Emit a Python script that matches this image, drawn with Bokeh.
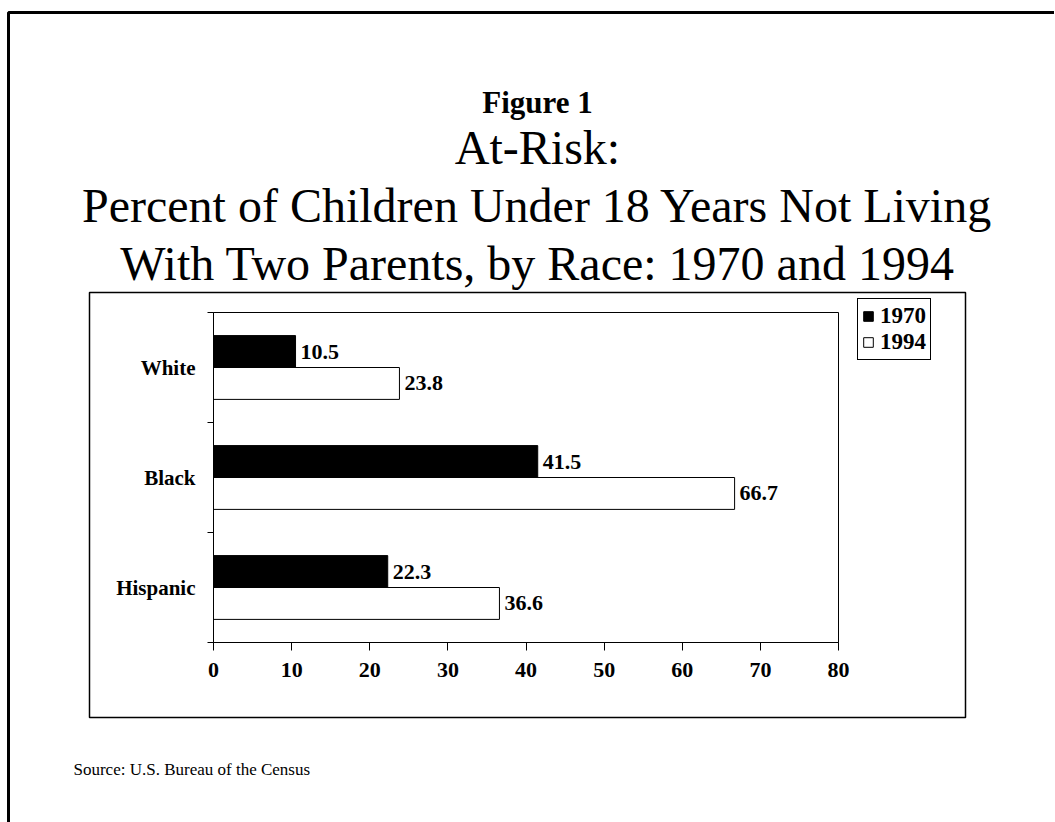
from bokeh.plotting import figure
from bokeh.models import (Range1d, FixedTicker, ColumnDataSource, Legend, LegendItem,
                          Label, BoxAnnotation)
from bokeh.transform import dodge
from bokeh.core.properties import value
from bokeh.embed import file_html
from bokeh.resources import INLINE

# ---- data ----
races = ["White", "Black", "Hispanic"]
pct_1970 = [10.5, 41.5, 22.3]
pct_1994 = [23.8, 66.7, 36.6]
series_names = ["1970", "1994"]
x_ticks = [0, 10, 20, 30, 40, 50, 60, 70, 80]
fig_label = "Figure 1"
title_lines = ["At-Risk:",
               "Percent of Children Under 18 Years Not Living",
               "With Two Parents, by Race: 1970 and 1994"]
source_text = "Source: U.S. Bureau of the Census"

FONT = "Liberation Serif"

# ---- page geometry (pixels from the page's top-left) ----
W, H = 1054, 822
PL, PR, PT, PB = 213, 838, 312, 642      # bar area
X_MIN, X_MAX = 0, 80
n = len(races)

# the frame covers the whole canvas; data ranges chosen so the bar area lands at PL..PR / PT..PB
xs = (PR - PL) / (X_MAX - X_MIN)
ys = (PB - PT) / n
x_range = Range1d(X_MIN - PL / xs, X_MAX + (W - PR) / xs)
y_range = Range1d(-(H - PB) / ys, n + PT / ys)

p = figure(width=W, height=H, x_range=x_range, y_range=y_range,
           output_backend="svg", toolbar_location=None, min_border=0,
           outline_line_color=None)
p.xgrid.visible = False
p.ygrid.visible = False
p.background_fill_color = "white"
p.border_fill_color = "white"


def sx(X):
    return X


def sy(Y):
    return H - Y


# ---- bars ----
centers = [n - i - 0.5 for i in range(n)]
bounds = [float(i) for i in range(n + 1)]
src = ColumnDataSource(dict(
    y=centers, v70=pct_1970, v94=pct_1994,
    t70=[f"{v:.1f}" for v in pct_1970],
    t94=[f"{v:.1f}" for v in pct_1994],
))

# bar-area outline
p.add_layout(BoxAnnotation(left=X_MIN, right=X_MAX, bottom=0, top=n,
                           fill_color=None, line_color="black", line_alpha=1,
                           line_width=1))

bh = 0.29
r70 = p.hbar(y=dodge("y", bh / 2, range=p.y_range), left=0, right="v70", height=bh,
             source=src, fill_color="black", line_color="black", line_width=1)
r94 = p.hbar(y=dodge("y", -bh / 2, range=p.y_range), left=0, right="v94", height=bh,
             source=src, fill_color="white", line_color="black", line_width=1)

for col, tcol, off in (("v70", "t70", bh / 2), ("v94", "t94", -bh / 2)):
    p.text(x=col, y=dodge("y", off, range=p.y_range), text=tcol, source=src,
           x_offset=5, text_baseline="middle", text_align="left",
           text_font=value(FONT), text_font_style="bold", text_font_size="22px",
           text_color="black")

# ---- axes, fixed at the bar area's edges ----
xa = p.xaxis[0]
xa.fixed_location = 0
xa.bounds = (X_MIN, X_MAX)
xa.ticker = FixedTicker(ticks=x_ticks)
xa.major_tick_out = 8
xa.major_tick_in = 0
xa.minor_tick_out = 0
xa.minor_tick_in = 0
xa.axis_line_color = "black"
xa.major_tick_line_color = "black"
xa.major_label_text_font = FONT
xa.major_label_text_font_style = "bold"
xa.major_label_text_font_size = "22px"
xa.major_label_text_color = "black"
xa.major_label_standoff = 12

ya = p.yaxis[0]
ya.fixed_location = X_MIN
ya.bounds = (0, n)
ya.ticker = FixedTicker(ticks=centers, minor_ticks=bounds)
ya.major_label_overrides = {c: r for c, r in zip(centers, races)}
ya.major_tick_out = 0
ya.major_tick_in = 0
ya.minor_tick_out = 6
ya.minor_tick_in = 0
ya.minor_tick_line_color = "black"
ya.axis_line_color = "black"
ya.major_label_text_font = FONT
ya.major_label_text_font_style = "bold"
ya.major_label_text_font_size = "21px"
ya.major_label_text_color = "black"
ya.major_label_standoff = 12

# ---- legend ----
legend = Legend(items=[LegendItem(label=series_names[0], renderers=[r70]),
                       LegendItem(label=series_names[1], renderers=[r94])],
                location=(sx(857), sy(360)))
legend.label_text_font = FONT
legend.label_text_font_style = "bold"
legend.label_text_font_size = "23px"
legend.label_text_color = "black"
legend.label_height = 20
legend.glyph_width = 12
legend.glyph_height = 12
legend.label_standoff = 6
legend.spacing = 0
legend.padding = 4
legend.margin = 0
legend.border_line_color = "black"
legend.border_line_alpha = 1
legend.border_line_width = 1
legend.background_fill_color = "white"
legend.background_fill_alpha = 1
p.add_layout(legend)

# ---- titles, source ----
cx = 537
p.add_layout(Label(x=sx(cx), y=sy(102), x_units="screen", y_units="screen",
                   text=fig_label, text_align="center", text_baseline="alphabetic",
                   text_font=FONT, text_font_style="bold", text_font_size="31px",
                   text_color="black"))
for line, base in zip(title_lines, [147, 205, 263]):
    p.add_layout(Label(x=sx(cx), y=sy(base), x_units="screen", y_units="screen",
                       text=line, text_align="center", text_baseline="alphabetic",
                       text_font=FONT, text_font_size="48px", text_color="black"))
p.add_layout(Label(x=sx(73), y=sy(769), x_units="screen", y_units="screen",
                   text=source_text, text_align="left", text_baseline="alphabetic",
                   text_font=FONT, text_font_size="17px", text_color="black"))

# ---- chart box and outer page frame ----
p.add_layout(BoxAnnotation(left=sx(89), right=sx(965), top=sy(292), bottom=sy(717),
                           left_units="screen", right_units="screen",
                           top_units="screen", bottom_units="screen",
                           fill_color=None, line_color="black", line_alpha=1,
                           line_width=1.5))
p.add_layout(BoxAnnotation(left=sx(8), right=sx(1300), top=sy(12), bottom=sy(1200),
                           left_units="screen", right_units="screen",
                           top_units="screen", bottom_units="screen",
                           fill_color=None, line_color="black", line_alpha=1,
                           line_width=3))

open("out.html", "w").write(file_html(p, INLINE))
